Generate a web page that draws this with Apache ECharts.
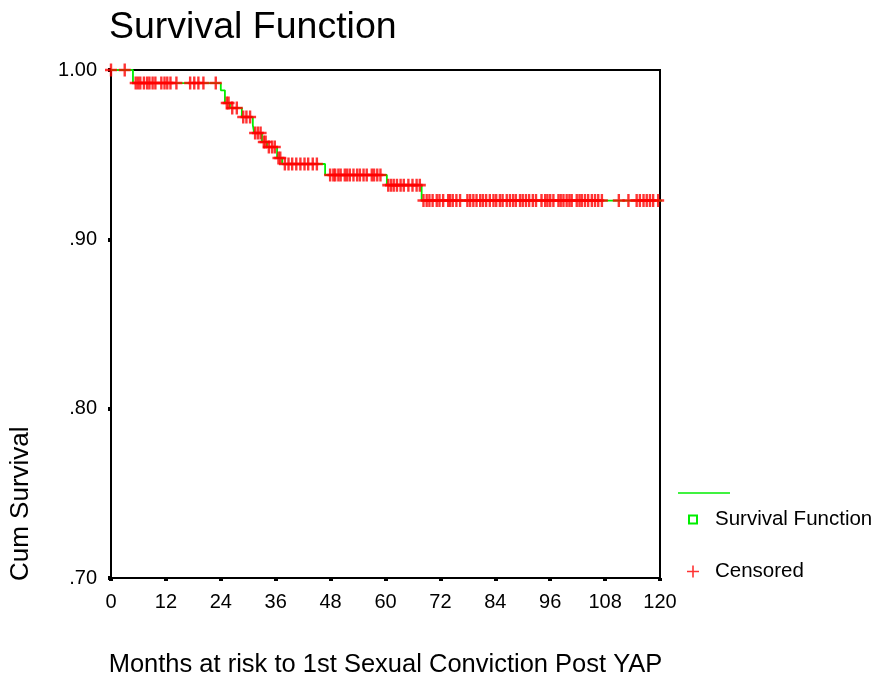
<!DOCTYPE html>
<html><head><meta charset="utf-8">
<script src="https://cdn.jsdelivr.net/npm/echarts@6/dist/echarts.min.js"></script>
<style>html,body{margin:0;padding:0;background:#fff;overflow:hidden}#c{width:875px;height:682px}</style>
</head><body><div id="c"></div>
<script>
// Step changes of the survival function: [month, cumulative survival after the step]
const eventTimes = [0, 4.8, 24.0, 24.9, 26.0, 28.6, 31.0, 31.3, 33.0, 34.1, 36.3, 37.4, 46.8, 60.3, 67.9];
const survivalLevels = [1.0, 0.9923, 0.988, 0.9805, 0.9776, 0.9722, 0.9675, 0.9628, 0.9575, 0.9545, 0.948, 0.9445, 0.938, 0.932, 0.9229];
const lineEndMonth = 126.6;
// Censored observation times (months)
const censoredTimes = [
  0, 3.0,
  5.4, 5.9, 6.4, 7.2, 7.9, 8.4, 9.1, 9.7, 11.0, 11.7, 12.3, 13.0, 14.3, 17.3, 18.2, 19.1, 20.2, 22.9,
  25.3, 25.7, 26.5, 27.5, 28.9, 29.6, 30.4,
  31.5, 32.1, 32.7, 33.4, 33.8, 34.5, 35.2, 35.8, 36.6, 37.0,
  38.0, 38.8, 39.6, 40.5, 41.4, 42.3, 43.1, 44.1, 45.0,
  47.9, 48.6, 49.0, 49.7, 50.2, 51.1, 51.6, 52.2, 53.0, 53.8, 54.4, 55.2, 55.9, 57.0, 57.5, 58.2, 58.9,
  60.6, 61.2, 61.8, 62.5, 63.3, 64.0, 65.0, 65.9, 66.8, 67.5,
  68.3, 69.0, 69.6, 70.3, 71.2, 71.8, 72.6, 73.7, 74.1, 74.7, 75.5, 76.3, 77.9, 78.5, 79.2, 79.9, 80.7, 81.3, 82.0, 82.8,
  83.6, 84.2, 85.0, 85.6, 86.5, 87.2, 87.9, 88.5, 89.4, 90.0, 90.7, 91.4, 92.2, 92.9,
  94.1, 94.9, 95.4, 96.0, 96.7, 97.8, 98.3, 98.9, 99.6, 100.2, 100.7, 101.8, 102.4, 102.9, 103.6, 104.3, 105.1, 105.8, 106.5, 107.3,
  111.0, 113.1, 114.9, 115.6, 116.4, 117.1, 117.8, 118.5, 119.6
];
const xTicks = [0, 12, 24, 36, 48, 60, 72, 84, 96, 108, 120];
const yTicks = [0.70, 0.80, 0.90, 1.00];
const yTickLabels = ['.70', '.80', '.90', '1.00'];

function survivalAt(t) {
  let s = survivalLevels[0];
  for (let i = 0; i < eventTimes.length; i++) { if (eventTimes[i] <= t) s = survivalLevels[i]; }
  return s;
}
const lineData = eventTimes.map((t, i) => [t, survivalLevels[i]]);
lineData.push([lineEndMonth, survivalLevels[survivalLevels.length - 1]]);
const censData = censoredTimes.map(t => [t, survivalAt(t)]);

const plus = 'path://M4,0H6V4H10V6H6V10H4V6H0V4H4Z';
const plusLegend = 'path://M5.2,0H6.8V5.2H12V6.8H6.8V12H5.2V6.8H0V5.2H5.2Z';
const squareLegend = 'path://M0,0M2,2H10V10H2ZM12,12';
const FONT = 'Liberation Sans, Arial, sans-serif';
const chart = echarts.init(document.getElementById('c'), null, {renderer: 'canvas'});
chart.setOption({
  animation: false,
  backgroundColor: '#fff',
  title: {text: 'Survival Function', left: 104, top: 4,
    textStyle: {fontFamily: FONT, fontSize: 37.5, fontWeight: 'normal', color: '#000'}},
  grid: {left: 111, top: 70, width: 549, height: 508, show: true, borderColor: '#000', borderWidth: 2,
    containLabel: false, outerBoundsMode: 'none'},
  xAxis: {type: 'value', min: 0, max: 120, interval: 12,
    name: 'Months at risk to 1st Sexual Conviction Post YAP', nameLocation: 'middle', nameGap: 74,
    nameTextStyle: {fontFamily: FONT, fontSize: 25.5, color: '#000'},
    axisLine: {show: true, lineStyle: {color: '#000', width: 2}},
    axisTick: {show: true, length: 3, lineStyle: {color: '#000', width: 4}},
    axisLabel: {fontFamily: FONT, fontSize: 20, color: '#000', margin: 14},
    splitLine: {show: false}},
  yAxis: {type: 'value', min: 0.7, max: 1.0, interval: 0.1,
    axisLine: {show: true, lineStyle: {color: '#000', width: 2}},
    axisTick: {show: true, length: 3, lineStyle: {color: '#000', width: 4}},
    axisLabel: {fontFamily: FONT, fontSize: 20, color: '#000', margin: 14,
      formatter: v => { const i = yTicks.findIndex(t => Math.abs(t - v) < 1e-6); return i >= 0 ? yTickLabels[i] : ''; }},
    splitLine: {show: false}},
  legend: {orient: 'vertical', left: 686, top: 509, itemGap: 31, itemWidth: 12, itemHeight: 12, padding: 0,
    textStyle: {fontFamily: FONT, fontSize: 20.5, color: '#000', padding: [0, 0, 0, 11]},
    data: [
      {name: 'Survival Function', icon: squareLegend, itemStyle: {color: '#fff', borderColor: '#00ee00', borderWidth: 2}},
      {name: 'Censored', icon: plusLegend, itemStyle: {color: '#ff0000', borderWidth: 0}}
    ]},
  graphic: [
    {type: 'line', shape: {x1: 678, y1: 493, x2: 730, y2: 493}, style: {stroke: '#00ee00', lineWidth: 1.5}},
    {type: 'text', x: 34, y: 581, rotation: Math.PI / 2,
      style: {text: 'Cum Survival', fontFamily: FONT, fontSize: 26, fill: '#000', textAlign: 'left', textVerticalAlign: 'bottom'}}
  ],
  series: [
    {name: 'Survival Function', type: 'line', step: 'end', data: lineData, clip: false,
      showSymbol: false, symbol: 'none', lineStyle: {color: '#00ee00', width: 1.8}, itemStyle: {color: '#00ee00'}, z: 2},
    {name: 'Censored', type: 'scatter', data: censData, symbol: plus, symbolSize: [12, 13],
      itemStyle: {color: '#ff0000'}, clip: false, z: 3}
  ]
});
</script></body></html>
